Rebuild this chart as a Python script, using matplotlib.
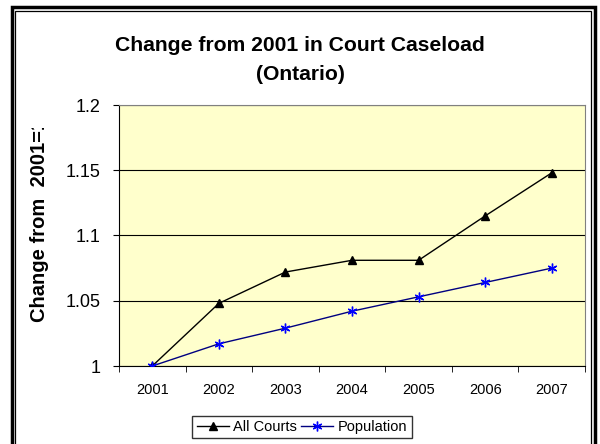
import matplotlib
matplotlib.use("Agg")

import matplotlib.pyplot as plt
from matplotlib.patches import Rectangle
from matplotlib.transforms import Bbox, TransformedBbox

years = ["2001", "2002", "2003", "2004", "2005", "2006", "2007"]
all_courts = [1.0, 1.048, 1.072, 1.081, 1.081, 1.115, 1.148]
population = [1.0, 1.017, 1.029, 1.042, 1.053, 1.064, 1.075]
y_ticks = [1, 1.05, 1.1, 1.15, 1.2]
y_tick_labels = ["1", "1.05", "1.1", "1.15", "1.2"]

plt.rcParams["font.family"] = ["Liberation Sans", "DejaVu Sans"]

fig = plt.figure(figsize=(6, 4.44), dpi=100)
W, H = 600, 444

# double border around the chart area
fig.patches.append(Rectangle((11.5 / W, -0.1), (595 - 11.5) / W, 1.1 - 7.5 / H,
                             transform=fig.transFigure, fill=False,
                             edgecolor="black", linewidth=2.5))
fig.patches.append(Rectangle((15 / W, -0.1), (591 - 15) / W, 1.1 - 11.5 / H,
                             transform=fig.transFigure, fill=False,
                             edgecolor="black", linewidth=0.9))

ax = fig.add_axes([119 / W, 1 - 366 / H, (585 - 119) / W, (366 - 105) / H])
ax.set_facecolor("#FFFFCC")

x = list(range(len(years)))
ax.plot(x, all_courts, color="black", linewidth=1, marker="^",
        markersize=6, markerfacecolor="black", markeredgecolor="black",
        label="All Courts", zorder=3)
ax.plot(x, population, color="#000080", linewidth=1, marker=(6, 2, 0),
        markersize=7, markeredgecolor="#0000FF", markeredgewidth=1,
        label="Population", zorder=3)

ax.set_xlim(-0.5, len(years) - 0.5)
ax.set_ylim(1, 1.2)
ax.set_yticks(y_ticks)
ax.set_yticklabels(y_tick_labels, fontsize=13)
ax.set_xticks(x)
ax.set_xticklabels(years, fontsize=10.5)
ax.set_xticks([i - 0.5 for i in range(len(years) + 1)], minor=True)
ax.tick_params(axis="x", which="major", length=0, pad=12)
ax.tick_params(axis="x", which="minor", length=4, direction="out", color="black")
ax.tick_params(axis="y", length=4, direction="out", color="black", pad=9)
ax.grid(axis="y", color="black", linewidth=0.8)
ax.set_axisbelow(True)
for side in ["top", "right"]:
    ax.spines[side].set_color("#808080")
for side in ["left", "bottom"]:
    ax.spines[side].set_color("black")

fig.text(0.5, 1 - 60 / H, "Change from 2001 in Court Caseload\n(Ontario)",
         ha="center", va="center", fontsize=15.2, fontweight="bold",
         linespacing=1.65)

# axis title is cut off at the top, as in the original chart
ylab = fig.text(40 / W, 1 - 322 / H, "Change from  2001=1", rotation=90,
                ha="center", va="bottom", fontsize=14.5, fontweight="bold")
ylab.set_clip_on(True)
ylab.set_clip_path(Rectangle((0, 0), 1, 1 - 128 / H, transform=fig.transFigure))

ax.legend(loc="center", bbox_to_anchor=(302 / W, 1 - 427 / H),
          bbox_transform=fig.transFigure, ncol=2, fontsize=10.5,
          frameon=True, fancybox=False, edgecolor="black",
          handlelength=2.2, handletextpad=0.3, columnspacing=0.3,
          borderpad=0.3, borderaxespad=0)

fig.savefig("out.png", dpi=100)
plt.close(fig)
